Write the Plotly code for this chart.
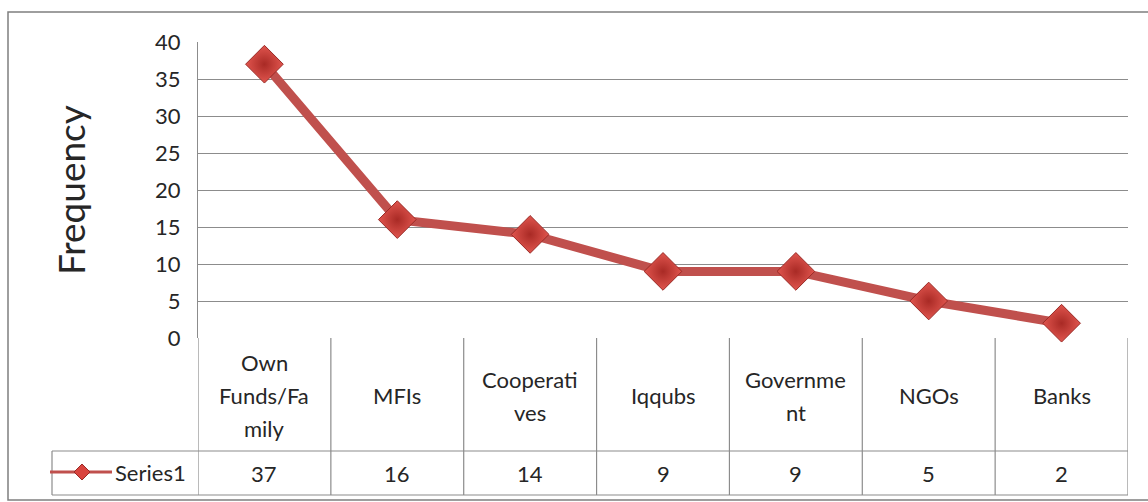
import plotly.graph_objects as go

# Funding sources and their frequencies
categories = ["Own Funds/Family", "MFIs", "Cooperatives", "Iqqubs", "Government", "NGOs", "Banks"]
category_labels = ["Own<br>Funds/Fa<br>mily", "MFIs", "Cooperati<br>ves", "Iqqubs", "Governme<br>nt", "NGOs", "Banks"]
frequency = [37, 16, 14, 9, 9, 5, 2]
series_name = "Series1"
y_ticks = [0, 5, 10, 15, 20, 25, 30, 35, 40]

W, H = 1148, 502
L, R, T, B = 198, 20, 42, 164
plot_w = W - L - R
plot_h = H - T - B

FONT = "Lato"
TXT = "#262626"
GRID = "#8C8C8C"
LINE_RED = "#C0504D"

def px_x(px):
    return (px - L) / plot_w

def px_y(py):
    return (H - B - py) / plot_h

n = len(categories)
x_idx = list(range(n))

fig = go.Figure()
fig.add_trace(go.Scatter(
    x=x_idx, y=frequency, mode="lines+markers", name=series_name,
    line=dict(color=LINE_RED, width=9),
    marker=dict(symbol="diamond", size=29, color="#E0554E",
                gradient=dict(type="radial", color="#A92A25"),
                line=dict(color="#9A2A26", width=1)),
    cliponaxis=False, showlegend=False,
))

shapes = []
# outer chart border
shapes.append(dict(type="rect", xref="paper", yref="paper",
                   x0=px_x(8), x1=px_x(1160), y0=px_y(500), y1=px_y(12),
                   line=dict(color="#7F7F7F", width=1.5), layer="below"))

row1_top, row1_bot, row2_bot = 338, 451, 495
lc = dict(color=GRID, width=1.2)
# data table horizontal rules
for yy in (row1_bot, row2_bot):
    shapes.append(dict(type="line", xref="paper", yref="paper",
                       x0=px_x(52), x1=px_x(1128), y0=px_y(yy), y1=px_y(yy), line=lc))
# data table vertical rules
shapes.append(dict(type="line", xref="paper", yref="paper",
                   x0=px_x(52), x1=px_x(52), y0=px_y(row1_bot), y1=px_y(row2_bot), line=lc))
for i in range(n + 1):
    xv = i - 0.5
    shapes.append(dict(type="line", xref="x", yref="paper",
                       x0=xv, x1=xv, y0=px_y(row1_top), y1=px_y(row2_bot), line=lc))

# legend key inside the table header cell
key_y = px_y(472)
shapes.append(dict(type="line", xref="paper", yref="paper",
                   x0=px_x(50), x1=px_x(112), y0=key_y, y1=key_y,
                   line=dict(color=LINE_RED, width=3)))
cx, cy, hw = 82, 472, 8
path = "M {} {} L {} {} L {} {} L {} {} Z".format(
    px_x(cx - hw), px_y(cy), px_x(cx), px_y(cy - hw),
    px_x(cx + hw), px_y(cy), px_x(cx), px_y(cy + hw))
shapes.append(dict(type="path", xref="paper", yref="paper", path=path,
                   fillcolor="#D9443E", line=dict(color="#9A2A26", width=1)))

CELL_SIZE = 22
LINE_GAP = 33  # pixel spacing between wrapped header lines
annotations = []
row1_mid = (row1_top + row1_bot) / 2 + 1
for i, (lab, val) in enumerate(zip(category_labels, frequency)):
    parts = lab.split("<br>")
    for k, part in enumerate(parts):
        yy = row1_mid + (k - (len(parts) - 1) / 2) * LINE_GAP
        annotations.append(dict(x=i, y=px_y(yy), xref="x", yref="paper",
                                xanchor="center", yanchor="middle",
                                text=part, showarrow=False,
                                font=dict(family=FONT, size=CELL_SIZE, color=TXT)))
    annotations.append(dict(x=i, y=px_y((row1_bot + row2_bot) / 2), xref="x", yref="paper",
                            xanchor="center", yanchor="middle",
                            text=str(val), showarrow=False,
                            font=dict(family=FONT, size=CELL_SIZE, color=TXT)))
annotations.append(dict(x=px_x(113), y=px_y(472), xref="paper", yref="paper",
                        text=series_name, showarrow=False, xanchor="left", yanchor="middle",
                        font=dict(family=FONT, size=CELL_SIZE, color=TXT)))
annotations.append(dict(x=px_x(70), y=px_y(190), xref="paper", yref="paper",
                        text="Frequency", showarrow=False, textangle=-90,
                        xanchor="center", yanchor="middle",
                        font=dict(family=FONT, size=37, color=TXT)))

fig.update_layout(
    width=W, height=H,
    margin=dict(l=L, r=R, t=T, b=B),
    paper_bgcolor="white", plot_bgcolor="white",
    shapes=shapes, annotations=annotations,
    xaxis=dict(range=[-0.5, n - 0.5], tickvals=x_idx, showticklabels=False,
               showgrid=False, zeroline=False, showline=False, ticks=""),
    yaxis=dict(range=[0, 40], tickvals=y_ticks, showgrid=True, gridcolor=GRID, gridwidth=1.2,
               zeroline=False, showline=True, linecolor=GRID, linewidth=1.2,
               ticks="", ticklabelstandoff=12,
               tickfont=dict(family=FONT, size=22, color=TXT)),
)

fig.write_html("out.html")
